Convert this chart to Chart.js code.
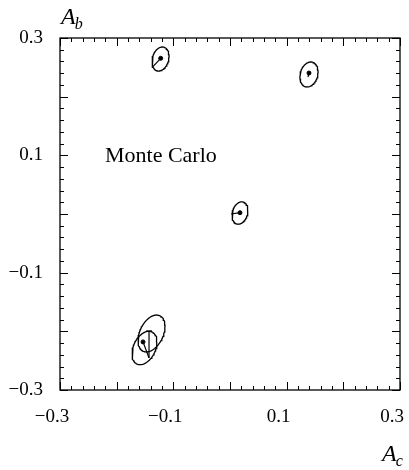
<!DOCTYPE html>
<html>
<head>
<meta charset="utf-8">
<script src="https://cdn.jsdelivr.net/npm/chart.js@4"></script>
<style>
  html, body { margin: 0; padding: 0; background: #fff; }
  #wrap { width: 409px; height: 470px; }
</style>
</head>
<body>
<div id="wrap"><canvas id="chart"></canvas></div>
<script>
// Fit results: centre, half-width in A_c, half-height in A_b, correlation
const fitAc = [-0.1226, 0.1394, 0.0176, -0.1385, -0.1509];
const fitAb = [0.2642, 0.2378, 0.0017, -0.2037, -0.2284];
const errAc = [0.015, 0.016, 0.014, 0.0238, 0.022];
const errAb = [0.0205, 0.0213, 0.019, 0.0315, 0.0285];
const corr = [0.22, 0.2, 0.22, 0.38, 0.35];

// Input points and the short lines drawn from them
const dotAc = [-0.1223, 0.1394, 0.0176, -0.1535];
const dotAb = [0.2654, 0.2403, 0.0022, -0.218];
const lineFromAc = [-0.1223, 0.1394, 0.0176, -0.1535, -0.1429, -0.1482];
const lineFromAb = [0.2654, 0.2403, 0.0022, -0.218, -0.1994, -0.1994];
const lineToAc = [-0.1377, 0.1376, 0.0018, -0.1429, -0.1429, -0.1376];
const lineToAb = [0.2494, 0.2335, 0.0, -0.2455, -0.2455, -0.1994];

const tickLabels = [-0.3, -0.1, 0.1, 0.3];
const minorStep = 0.02;
const labelText = "Monte Carlo";
const labelPos = { x: -0.2206, y: 0.0989 };

const serif = "'Liberation Serif', 'DejaVu Serif', serif";

// outline of an error ellipse from its centre, errors and correlation
function ellipsePoints(i) {
  const pts = [];
  const n = 80;
  const s = Math.sqrt(1 - corr[i] * corr[i]);
  for (let k = 0; k <= n; k++) {
    const t = (2 * Math.PI * k) / n;
    pts.push({
      x: fitAc[i] + errAc[i] * Math.cos(t),
      y: fitAb[i] + errAb[i] * (corr[i] * Math.cos(t) + s * Math.sin(t))
    });
  }
  return pts;
}

const datasets = [];
fitAc.forEach((_, i) => {
  datasets.push({
    type: "line",
    data: ellipsePoints(i),
    borderColor: "#000",
    borderWidth: 1.3,
    pointRadius: 0,
    tension: 0,
    fill: false
  });
});
lineFromAc.forEach((_, i) => {
  datasets.push({
    type: "line",
    data: [{ x: lineFromAc[i], y: lineFromAb[i] }, { x: lineToAc[i], y: lineToAb[i] }],
    borderColor: "#000",
    borderWidth: 1.2,
    pointRadius: 0,
    fill: false
  });
});
datasets.push({
  type: "scatter",
  data: dotAc.map((x, i) => ({ x: x, y: dotAb[i] })),
  backgroundColor: "#000",
  borderColor: "#000",
  pointRadius: 2
});

const fmt = v => {
  const r = Math.round(v * 10) / 10;
  return (r < 0 ? "\u2212" : "") + Math.abs(r).toFixed(1);
};

const noPad = s => {
  s.paddingLeft = 0; s.paddingRight = 0; s.paddingTop = 0; s.paddingBottom = 0;
};

// frame, inward tick marks, axis titles and the text label
const decorations = {
  id: "decorations",
  afterDraw(chart) {
    const { ctx, chartArea: a, scales: { x, y } } = chart;
    ctx.save();
    ctx.strokeStyle = "#000";
    ctx.lineWidth = 1.3;
    ctx.strokeRect(a.left, a.top, a.right - a.left, a.bottom - a.top);

    ctx.lineWidth = 1;
    ctx.beginPath();
    for (let k = 0; k <= 30; k++) {
      const v = -0.3 + k * minorStep;
      const len = k % 5 === 0 ? 8 : 4;
      const px = Math.round(x.getPixelForValue(v)) + 0.5;
      const py = Math.round(y.getPixelForValue(v)) + 0.5;
      ctx.moveTo(px, a.bottom); ctx.lineTo(px, a.bottom - len);
      ctx.moveTo(px, a.top); ctx.lineTo(px, a.top + len);
      ctx.moveTo(a.left, py); ctx.lineTo(a.left + len, py);
      ctx.moveTo(a.right, py); ctx.lineTo(a.right - len, py);
    }
    ctx.stroke();

    ctx.fillStyle = "#000";
    ctx.textBaseline = "middle";
    ctx.textAlign = "left";
    ctx.font = "22px " + serif;
    ctx.fillText(labelText, x.getPixelForValue(labelPos.x), y.getPixelForValue(labelPos.y));

    const title = (main, sub, px, py) => {
      ctx.textBaseline = "alphabetic";
      ctx.font = "italic 24px " + serif;
      ctx.fillText(main, px, py);
      const w = ctx.measureText(main).width;
      ctx.font = "italic 16px " + serif;
      ctx.fillText(sub, px + w - 1, py + 5);
    };
    title("A", "b", 61, 24);
    title("A", "c", 382, 461);
    ctx.restore();
  }
};

new Chart(document.getElementById("chart"), {
  type: "scatter",
  data: { datasets: datasets },
  options: {
    responsive: true,
    maintainAspectRatio: false,
    animation: false,
    layout: { padding: { top: 38, right: 9, left: 0, bottom: 0 } },
    plugins: { legend: { display: false }, tooltip: { enabled: false } },
    scales: {
      x: {
        type: "linear",
        min: -0.3,
        max: 0.3,
        afterBuildTicks: s => { s.ticks = tickLabels.map(v => ({ value: v })); },
        afterFit: s => { s.height = 80; noPad(s); },
        grid: { display: false, drawTicks: false },
        border: { display: false },
        ticks: {
          color: "#000",
          font: { family: serif, size: 19 },
          padding: 16,
          labelOffset: -8,
          maxRotation: 0,
          autoSkip: false,
          callback: fmt
        }
      },
      y: {
        type: "linear",
        min: -0.3,
        max: 0.3,
        afterBuildTicks: s => { s.ticks = tickLabels.map(v => ({ value: v })); },
        afterFit: s => { s.width = 60; noPad(s); },
        grid: { display: false, drawTicks: false },
        border: { display: false },
        ticks: {
          color: "#000",
          font: { family: serif, size: 19 },
          padding: 17,
          autoSkip: false,
          callback: fmt
        }
      }
    }
  },
  plugins: [decorations]
});
</script>
</body>
</html>
